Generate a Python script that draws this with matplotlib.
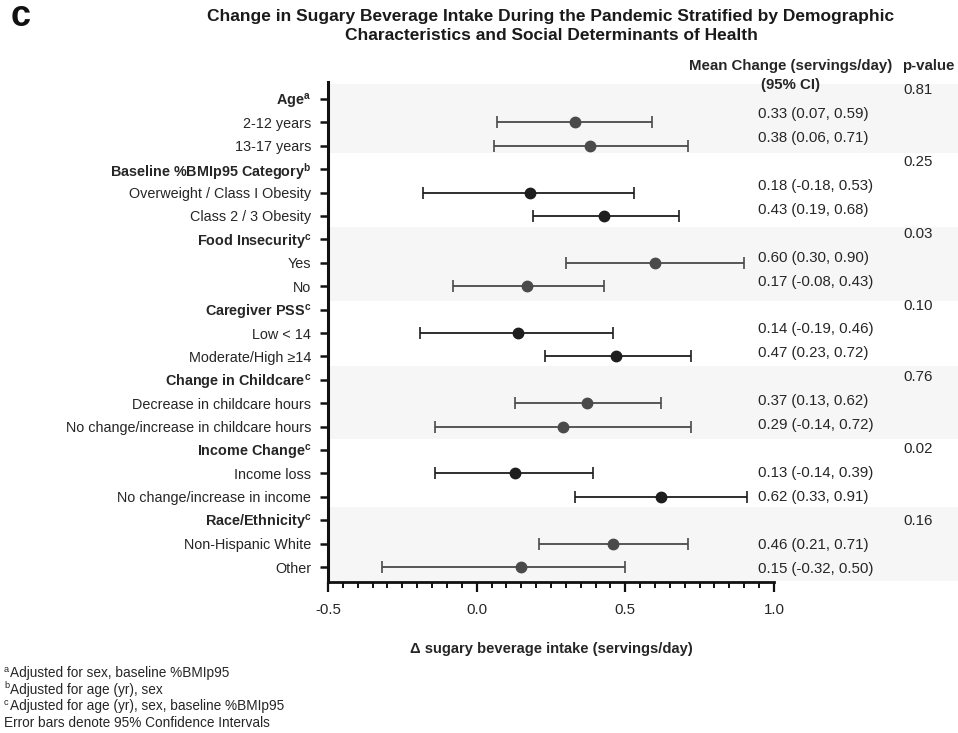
import matplotlib
matplotlib.use("Agg")
import matplotlib.pyplot as plt
from matplotlib.ticker import FixedLocator

plt.rcParams['font.family'] = ['Liberation Sans', 'DejaVu Sans']
plt.rcParams['mathtext.fontset'] = 'custom'
plt.rcParams['mathtext.rm'] = 'Liberation Sans'
plt.rcParams['mathtext.bf'] = 'Liberation Sans:bold'
plt.rcParams['mathtext.it'] = 'Liberation Sans:italic'

# ---------------- data ----------------
groups = ["Age", "Baseline %BMIp95 Category", "Food Insecurity", "Caregiver PSS",
          "Change in Childcare", "Income Change", "Race/Ethnicity"]
group_notes = ["a", "b", "c", "c", "c", "c", "c"]
p_values = ["0.81", "0.25", "0.03", "0.10", "0.76", "0.02", "0.16"]
subgroups = [
    ["2-12 years", "13-17 years"],
    ["Overweight / Class I Obesity", "Class 2 / 3 Obesity"],
    ["Yes", "No"],
    ["Low < 14", "Moderate/High \u226514"],
    ["Decrease in childcare hours", "No change/increase in childcare hours"],
    ["Income loss", "No change/increase in income"],
    ["Non-Hispanic White", "Other"],
]
means = [[0.33, 0.38], [0.18, 0.43], [0.60, 0.17], [0.14, 0.47],
         [0.37, 0.29], [0.13, 0.62], [0.46, 0.15]]
ci_low = [[0.07, 0.06], [-0.18, 0.19], [0.30, -0.08], [-0.19, 0.23],
          [0.13, -0.14], [-0.14, 0.33], [0.21, -0.32]]
ci_high = [[0.59, 0.71], [0.53, 0.68], [0.90, 0.43], [0.46, 0.72],
           [0.62, 0.72], [0.39, 0.91], [0.71, 0.50]]
xticks = [-0.5, 0.0, 0.5, 1.0]
footnote_marks = ["a", "b", "c", ""]
footnotes = ["Adjusted for sex, baseline %BMIp95",
             "Adjusted for age (yr), sex",
             "Adjusted for age (yr), sex, baseline %BMIp95",
             "Error bars denote 95% Confidence Intervals"]

# ---------------- figure ----------------
W, H = 958, 733
fig = plt.figure(figsize=(W / 100, H / 100), dpi=100)
ax_left, ax_right = 328 / W, 1.0
ax_top, ax_bot = 1 - 82.3 / H, 1 - 582.3 / H
ax = fig.add_axes([ax_left, ax_bot, ax_right - ax_left, ax_top - ax_bot])

xmin = -0.5
xmax = -0.5 + (958 - 328) / 297.3
ax.set_xlim(xmin, xmax)
ax.set_ylim(20.65, -0.71)

txt_col = '#262626'
band_col = '#f6f6f6'
band_extents = {0: (-0.64, 2.29), 2: (5.47, 8.62), 4: (11.41, 14.54), 6: (17.42, 20.59)}
FS = 10.8

labels, label_bold = [], []
row = 0
for g, name in enumerate(groups):
    labels.append(name + r"$^{\mathbf{%s}}$" % group_notes[g])
    label_bold.append(True)
    shaded = g in band_extents
    if shaded:
        y0, y1 = band_extents[g]
        ax.axhspan(y0, y1, xmin=0.003, xmax=1.0, color=band_col, zorder=0, lw=0)
    ty = row * 1.0235 - 0.385
    ax.text(1.435, ty, p_values[g], ha='left', va='center', fontsize=FS, color=txt_col)
    row += 1
    for k in range(2):
        labels.append(subgroups[g][k])
        label_bold.append(False)
        col = '#4a4a4a' if shaded else '#1e1e1e'
        m, lo, hi = means[g][k], ci_low[g][k], ci_high[g][k]
        ax.errorbar([m], [row], xerr=[[m - lo], [hi - m]], fmt='o', color=col,
                    ecolor=col, elinewidth=1.3, capsize=4, capthick=1.2,
                    markersize=7.5, zorder=3)
        ty = row * 1.0235 - 0.385
        ax.text(0.946, ty, "%.2f (%.2f, %.2f)" % (m, lo, hi), ha='left', va='center',
                fontsize=FS, color=txt_col)
        row += 1

ax.set_yticks(range(len(labels)))
ax.set_yticklabels(labels, fontsize=10.4, color=txt_col)
for t, b in zip(ax.get_yticklabels(), label_bold):
    if b:
        t.set_fontweight('bold')

ax.set_xticks(xticks)
ax.set_xticklabels(["%.1f" % v for v in xticks], fontsize=FS, color=txt_col)
ax.xaxis.set_minor_locator(FixedLocator([-0.5 + 0.05 * i for i in range(31)]))
ax.tick_params(axis='x', which='major', length=7, width=1.6, pad=8, color='#111')
ax.tick_params(axis='x', which='minor', length=4, width=1.4, color='#111')
ax.tick_params(axis='y', which='major', length=6, width=1.8, pad=6, color='#111')
for spine in ['top', 'right']:
    ax.spines[spine].set_visible(False)
ax.spines['left'].set_linewidth(2.2)
ax.spines['bottom'].set_linewidth(2.0)
ax.spines['left'].set_color('#111')
ax.spines['bottom'].set_color('#111')
ax.spines['bottom'].set_bounds(-0.5, 1.0)

# headers
ax.text(1.057, -1.41, "Mean Change (servings/day)", ha='center', va='center',
        fontsize=FS, fontweight='bold', color=txt_col, clip_on=False)
ax.text(1.057, -0.60, "(95% CI)", ha='center', va='center',
        fontsize=FS, fontweight='bold', color=txt_col, clip_on=False)
ax.text(1.431, -1.41, "p-value", ha='left', va='center',
        fontsize=FS, fontweight='bold', color=txt_col, clip_on=False)

# titles
cx = 551 / W
fig.text(cx, 1 - 17 / H, "Change in Sugary Beverage Intake During the Pandemic Stratified by Demographic",
         ha='center', va='center', fontsize=12.5, fontweight='bold', color='#1a1a1a')
fig.text(cx, 1 - 36 / H, "Characteristics and Social Determinants of Health",
         ha='center', va='center', fontsize=12.5, fontweight='bold', color='#1a1a1a')
fig.text(11 / W, 1 - 17 / H, "c", ha='left', va='center', fontsize=26,
         fontweight='bold', color='#111')
fig.text(cx, 1 - 649 / H, "\u0394 sugary beverage intake (servings/day)",
         ha='center', va='center', fontsize=10.6, fontweight='bold', color=txt_col)

for i, (mk, ftxt) in enumerate(zip(footnote_marks, footnotes)):
    base = 1 - (677.5 + 16.4 * i) / H
    if mk:
        fig.text(4 / W, base + 5.5 / H, mk, ha='left', va='baseline',
                 fontsize=6.6, color=txt_col)
        fig.text(9.5 / W, base, ftxt, ha='left', va='baseline',
                 fontsize=9.8, color=txt_col)
    else:
        fig.text(4 / W, base, ftxt, ha='left', va='baseline',
                 fontsize=9.8, color=txt_col)

fig.savefig("out.png", dpi=100)
